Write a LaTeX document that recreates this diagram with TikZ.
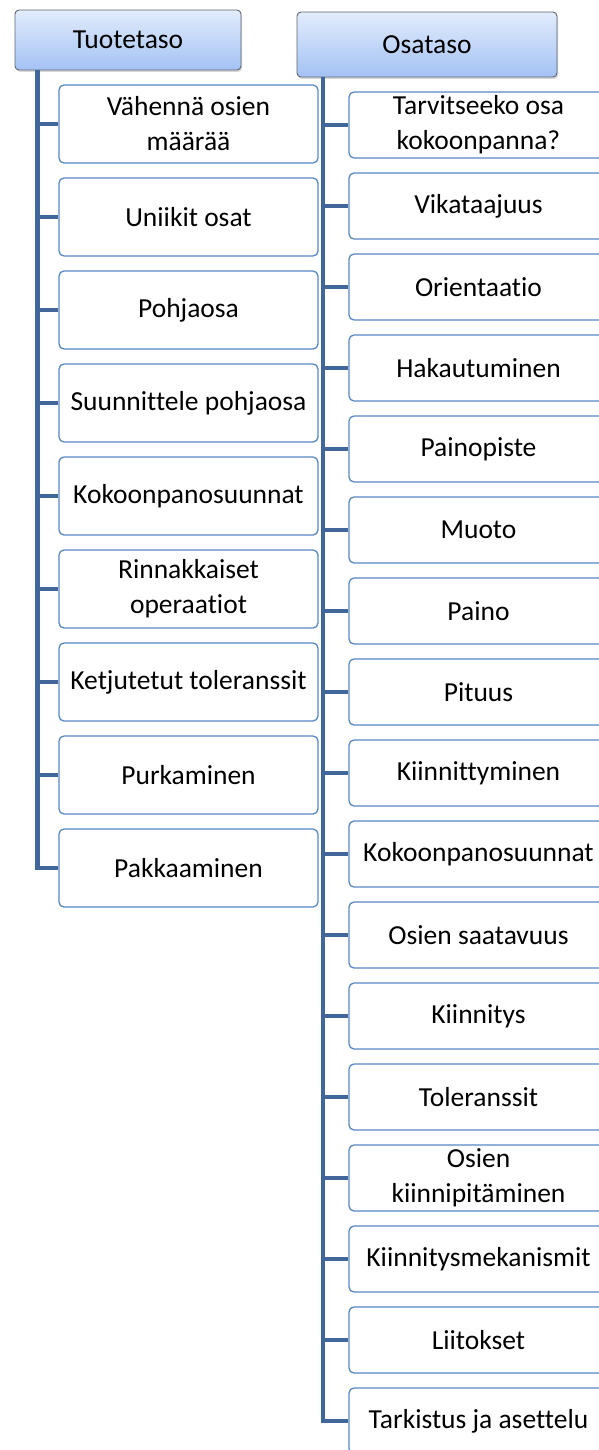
\documentclass[tikz,border=0pt]{standalone}
\usepackage{fontspec}
\setmainfont{Carlito}[Ligatures={NoCommon,NoRare}]
\usetikzlibrary{shadows}
\definecolor{trunkc}{HTML}{41669A}
\definecolor{boxc}{HTML}{5A88C4}
\definecolor{hdrtop}{HTML}{E2ECFC}
\definecolor{hdrbot}{HTML}{A3C2F4}
\definecolor{hdrline}{HTML}{5E6470}
\tikzset{
  hdr/.style={draw=hdrline, line width=0.9pt, rounded corners=4pt,
    top color=hdrtop, bottom color=hdrbot, inner sep=0pt, align=center,
    drop shadow={shadow xshift=1.2pt, shadow yshift=-2pt, opacity=0.3},
    font=\fontsize{27.5}{35}\selectfont},
  leaf/.style={draw=boxc, line width=1.3pt, rounded corners=5pt, fill=white,
    minimum width=259pt, inner sep=0pt, align=center,
    font=\fontsize{27.5}{35}\selectfont},
  lleaf/.style={leaf, minimum height=78pt},
  rleaf/.style={leaf, minimum height=66pt},
  trunk/.style={draw=trunkc, line width=4.8pt},
  branch/.style={draw=trunkc, line width=4.4pt}
}
\begin{document}
\begin{tikzpicture}[x=1pt, y=-1pt]
\useasboundingbox (0,0) rectangle (599,1450);
\clip (0,0) rectangle (599,1450);
\fill[white] (0,0) rectangle (599,1450);

% headers
\node[hdr, minimum width=226pt, minimum height=60pt] (H1) at (128,40) {Tuotetaso};
\node[hdr, minimum width=260pt, minimum height=65pt] (H2) at (427,44.5) {Osataso};

\coordinate (T1) at (37.5,70);
\coordinate (T2) at (323,77);

% left column
\foreach \i/\t in {1/{Vähennä osien\\määrää},2/{Uniikit osat},3/{Pohjaosa},
  4/{Suunnittele pohjaosa},5/{Kokoonpanosuunnat},6/{Rinnakkaiset\\operaatiot},
  7/{Ketjutetut toleranssit},8/{Purkaminen},9/{Pakkaaminen}}{
  \node[lleaf] (L\i) at (188.5,{124+93*(\i-1)}) {\t};
}
% right column
\foreach \i/\t in {1/{Tarvitseeko osa\\kokoonpanna?},2/{Vikataajuus},3/{Orientaatio},
  4/{Hakautuminen},5/{Painopiste},6/{Muoto},7/{Paino},8/{Pituus},
  9/{Kiinnittyminen},10/{Kokoonpanosuunnat},11/{Osien saatavuus},
  12/{Kiinnitys},13/{Toleranssit},14/{Osien\\kiinnipitäminen},
  15/{Kiinnitysmekanismit},16/{Liitokset},17/{Tarkistus ja asettelu}}{
  \node[rleaf] (R\i) at (478.5,{125+81*(\i-1)}) {\t};
}

% connectors
\draw[trunk] (T1) |- (L9.west);
\foreach \i in {1,...,8}{ \draw[branch] (L\i.west -| T1) -- (L\i.west); }
\draw[trunk] (T2) |- (R17.west);
\foreach \i in {1,...,16}{ \draw[branch] (R\i.west -| T2) -- (R\i.west); }
\end{tikzpicture}
\end{document}
